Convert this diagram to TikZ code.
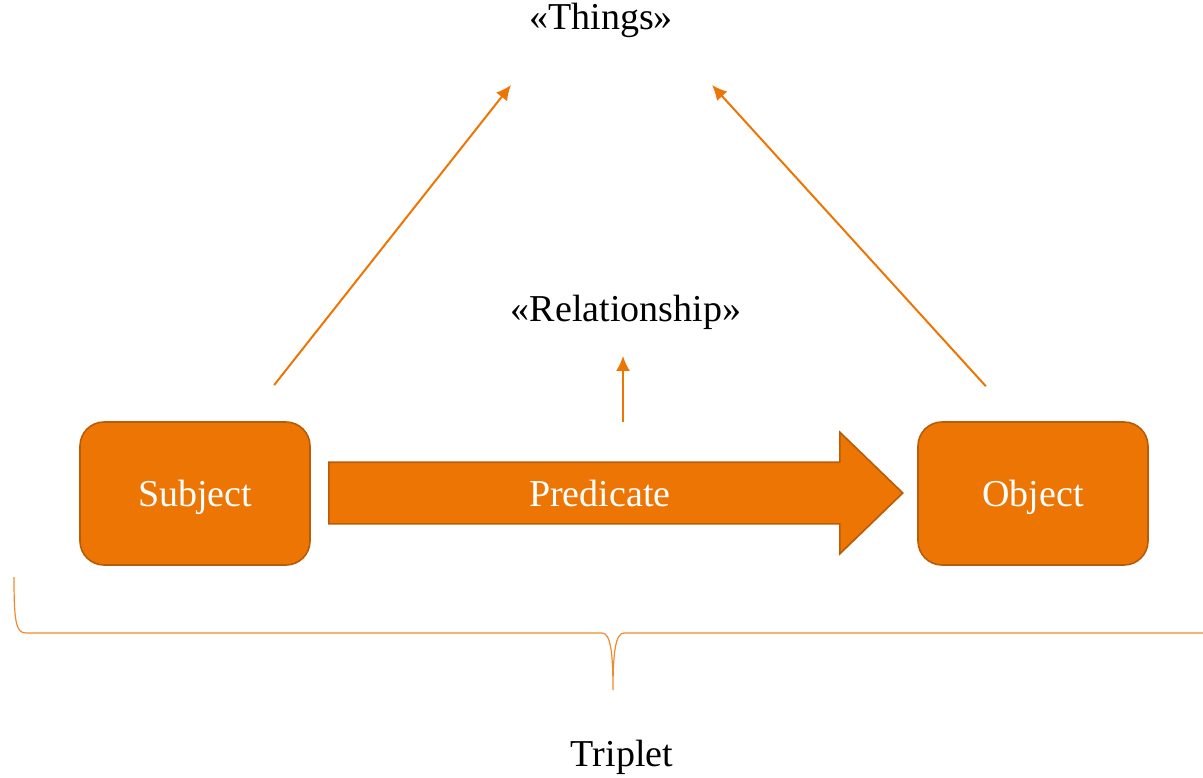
\documentclass[tikz,border=0pt]{standalone}
\usepackage{fontspec}
\setmainfont{Liberation Serif}
\usetikzlibrary{arrows.meta,shapes}
\definecolor{tangerine}{RGB}{237,117,4}
\definecolor{rust}{RGB}{184,92,8}

\begin{document}
\begin{tikzpicture}[x=0.5pt,y=-0.5pt,->,>={Latex[length=7.5pt,width=7pt]},line width=1pt,
                    font=\fontsize{19}{22}\selectfont]
  \tikzstyle{box}=[draw=rust,fill=tangerine,text=white,line width=0.8pt,
                   text height=15pt,text depth=2pt,
                   rounded corners=12pt,minimum width=115pt,minimum height=71.5pt]
  \tikzstyle{caption}=[text=black]
  \tikzstyle{link}=[draw=tangerine]

  \useasboundingbox (0,0) rectangle (1203,777);

  \node[caption]  (things)   at (601,20)  {«Things»};
  \node[caption]  (relation) at (626,312) {«Relationship»};
  \node[box]      (subject)  at (195,493.5) {Subject};
  \node[box]      (object)   at (1033,493.5) {Object};
  \node[box,single arrow,rounded corners=0pt,anchor=tail,
        minimum width=0pt,minimum height=287pt,
        single arrow head extend=15pt,single arrow tip angle=88,
        inner ysep=6.5pt]
                  (predicate) at (328,493) {Predicate};
  \node[caption]  (triplet)  at (622,757) {Triplet};

  \coordinate (thingsL) at (511,85);
  \coordinate (thingsR) at (712,85);
  \coordinate (relfoot) at (623,422);

  \draw[link,shorten <=23pt] (subject.55) -- (thingsL);
  \draw[link,shorten <=23.6pt] (object.102) -- (thingsR);
  \draw[link,shorten >=9.5pt] (relfoot) -- (relfoot |- relation.south);

  % brace under the triplet
  \draw[-,draw=tangerine!85,line width=0.6pt]
    (14,577) .. controls (14,622) and (16,633) .. (26,633) -- (602,633)
    .. controls (610,633) and (613,650) .. (613,690)
    .. controls (613,650) and (616,633) .. (624,633) -- (1203,633);
\end{tikzpicture}
\end{document}
